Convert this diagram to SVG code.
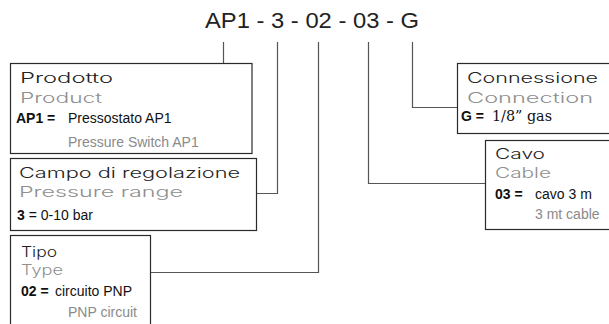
<svg xmlns="http://www.w3.org/2000/svg" width="609" height="324" viewBox="0 0 609 324">
<style>
.bg{fill:#fff}
.box{fill:#fff;stroke:#2a2a2a;stroke-width:1.2}
.con{fill:none;stroke:#555;stroke-width:1.2}
.title{font-family:"Liberation Sans",Arial,sans-serif;font-size:22px;fill:#222}
.h{font-family:Inter,"Liberation Sans",sans-serif;font-weight:300;font-size:14px;fill:#222}
.s{font-family:Inter,"Liberation Sans",sans-serif;font-weight:300;font-size:14px;fill:#8f8f8f}
.v{font-family:"Liberation Sans",Arial,sans-serif;font-size:14px;fill:#111}
.b{font-weight:bold}
.t{font-family:"Liberation Sans",Arial,sans-serif;font-size:14px;fill:#8a8a8a}
.serif{font-family:"DejaVu Serif","Liberation Serif",serif;font-size:14px;fill:#111}
</style>
<rect class="bg" x="0" y="0" width="609" height="324"/>
<text class="title" x="205" y="28" textLength="214" lengthAdjust="spacingAndGlyphs">AP1 - 3 - 02 - 03 - G</text>
<g id="connectors">
<line class="con" x1="223.5" y1="42" x2="223.5" y2="63.5"/>
<polyline class="con" points="277.5,42 277.5,193.5 257,193.5"/>
<polyline class="con" points="318.5,42 318.5,272.5 151,272.5"/>
<polyline class="con" points="368.5,42 368.5,183.5 485,183.5"/>
<polyline class="con" points="412.5,42 412.5,107.5 457,107.5"/>
</g>
<g id="prodotto">
<rect class="box" x="10.5" y="63.5" width="241.5" height="90"/>
<text class="h" x="20" y="83" textLength="93" lengthAdjust="spacingAndGlyphs">Prodotto</text>
<text class="s" x="20" y="103" textLength="82" lengthAdjust="spacingAndGlyphs">Product</text>
<text class="v b" x="16" y="123">AP1 =</text>
<text class="v" x="68" y="123">Pressostato AP1</text>
<text class="t" x="68" y="147">Pressure Switch AP1</text>
</g>
<g id="campo">
<rect class="box" x="10.5" y="158.5" width="246" height="72"/>
<text class="h" x="19" y="178" textLength="221" lengthAdjust="spacingAndGlyphs">Campo di regolazione</text>
<text class="s" x="19" y="197" textLength="164" lengthAdjust="spacingAndGlyphs">Pressure range</text>
<text class="v" x="17" y="220"><tspan class="b">3</tspan> = 0-10 bar</text>
</g>
<g id="tipo">
<rect class="box" x="10.5" y="235.5" width="140" height="100"/>
<text class="h" x="21" y="257" textLength="36" lengthAdjust="spacingAndGlyphs">Tipo</text>
<text class="s" x="21" y="275" textLength="42" lengthAdjust="spacingAndGlyphs">Type</text>
<text class="v b" x="21" y="296">02 =</text>
<text class="v" x="55" y="296">circuito PNP</text>
<text class="t" x="68" y="317">PNP circuit</text>
</g>
<g id="connessione">
<rect class="box" x="457.5" y="63.5" width="160" height="70"/>
<text class="h" x="467" y="83" textLength="131" lengthAdjust="spacingAndGlyphs">Connessione</text>
<text class="s" x="467" y="103" textLength="126" lengthAdjust="spacingAndGlyphs">Connection</text>
<text class="v b" x="461" y="121">G =</text>
<text class="serif" x="492" y="121" textLength="60" lengthAdjust="spacingAndGlyphs">1/8” gas</text>
</g>
<g id="cavo">
<rect class="box" x="485.5" y="140.5" width="130" height="89"/>
<text class="h" x="495" y="159" textLength="50" lengthAdjust="spacingAndGlyphs">Cavo</text>
<text class="s" x="495" y="178" textLength="56" lengthAdjust="spacingAndGlyphs">Cable</text>
<text class="v b" x="495" y="199">03 =</text>
<text class="v" x="535" y="199">cavo 3 m</text>
<text class="t" x="535" y="219">3 mt cable</text>
</g>
</svg>
